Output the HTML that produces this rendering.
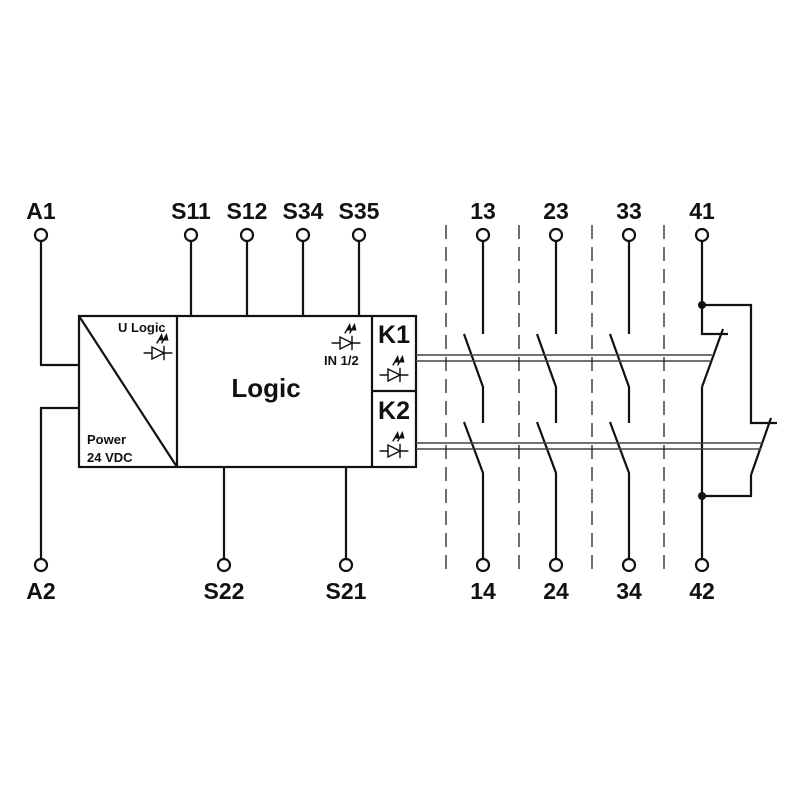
<!DOCTYPE html>
<html><head><style>body{margin:0;background:#fff}svg{display:block}text{font-family:"Liberation Sans",Arial,sans-serif;font-weight:bold;fill:#111}</style></head>
<body>
<svg width="800" height="800" viewBox="0 0 800 800" xmlns="http://www.w3.org/2000/svg">
<defs>
<g id="led" stroke="#111" stroke-width="1.2" fill="none" transform="scale(1.2)">
<line x1="-12" y1="0" x2="12" y2="0"/>
<polygon points="-5,-5 -5,5 5,0" fill="#fff"/>
<line x1="5" y1="-6" x2="5" y2="6"/>
<line x1="-1" y1="-8" x2="3" y2="-15"/><polygon points="3,-15 1,-11 4,-11" fill="#111"/>
<line x1="3" y1="-8" x2="7" y2="-15"/><polygon points="7,-15 5,-11 8,-11" fill="#111"/>
</g>
</defs>
<g stroke="#111" stroke-width="2.2" fill="none">
<circle cx="41" cy="235" r="6"/><circle cx="191" cy="235" r="6"/><circle cx="247" cy="235" r="6"/><circle cx="303" cy="235" r="6"/><circle cx="359" cy="235" r="6"/>
<circle cx="483" cy="235" r="6"/><circle cx="556" cy="235" r="6"/><circle cx="629" cy="235" r="6"/><circle cx="702" cy="235" r="6"/>
<circle cx="41" cy="565" r="6"/><circle cx="224" cy="565" r="6"/><circle cx="346" cy="565" r="6"/>
<circle cx="483" cy="565" r="6"/><circle cx="556" cy="565" r="6"/><circle cx="629" cy="565" r="6"/><circle cx="702" cy="565" r="6"/>
<polyline points="41,241 41,365 79,365"/>
<polyline points="41,559 41,408 79,408"/>
<line x1="191" y1="241" x2="191" y2="316"/><line x1="247" y1="241" x2="247" y2="316"/>
<line x1="303" y1="241" x2="303" y2="316"/><line x1="359" y1="241" x2="359" y2="316"/>
<line x1="224" y1="467" x2="224" y2="559"/><line x1="346" y1="467" x2="346" y2="559"/>
<rect x="79" y="316" width="337" height="151" fill="#fff"/>
<line x1="177" y1="316" x2="177" y2="467"/>
<line x1="372" y1="316" x2="372" y2="467"/>
<line x1="372" y1="391" x2="416" y2="391"/>
<line x1="79" y1="316" x2="177" y2="467"/>
<g id="c">
<line x1="483" y1="241" x2="483" y2="334"/>
<polyline points="464,334 483,387 483,423"/>
<polyline points="464,422 483,473 483,559"/>
</g>
<use href="#c" x="73"/><use href="#c" x="146"/>
<polyline points="702,241 702,334 728,334"/>
<line x1="723" y1="329" x2="702" y2="387"/>
<line x1="702" y1="387" x2="702" y2="559"/>
<polyline points="702,305 751,305 751,423 777,423"/>
<polyline points="702,496 751,496 751,475"/>
<line x1="751" y1="475" x2="771" y2="418"/>
</g>
<circle cx="702" cy="305" r="4" fill="#111"/><circle cx="702" cy="496" r="4" fill="#111"/>
<g stroke="#444" stroke-width="1.5">
<line x1="416" y1="355" x2="712" y2="355"/><line x1="416" y1="361" x2="710" y2="361"/>
<line x1="416" y1="443" x2="763" y2="443"/><line x1="416" y1="449" x2="761" y2="449"/>
</g>
<g stroke="#222" stroke-width="1.3" stroke-dasharray="14,8">
<line x1="446" y1="225" x2="446" y2="575"/><line x1="519" y1="225" x2="519" y2="575"/>
<line x1="592" y1="225" x2="592" y2="575"/><line x1="664" y1="225" x2="664" y2="575"/>
</g>
<use href="#led" x="158" y="353"/>
<use href="#led" x="346" y="343"/>
<use href="#led" x="394" y="375"/>
<use href="#led" x="394" y="451"/>
<g font-size="23" text-anchor="middle">
<text x="41" y="219">A1</text><text x="191" y="219">S11</text><text x="247" y="219">S12</text><text x="303" y="219">S34</text><text x="359" y="219">S35</text>
<text x="483" y="219">13</text><text x="556" y="219">23</text><text x="629" y="219">33</text><text x="702" y="219">41</text>
<text x="41" y="599">A2</text><text x="224" y="599">S22</text><text x="346" y="599">S21</text>
<text x="483" y="599">14</text><text x="556" y="599">24</text><text x="629" y="599">34</text><text x="702" y="599">42</text>
<text x="394" y="343" font-size="25">K1</text><text x="394" y="419" font-size="25">K2</text>
<text x="266" y="397" font-size="26">Logic</text>
</g>
<text x="118" y="332" font-size="13">U Logic</text>
<text x="324" y="365" font-size="13">IN 1/2</text>
<text x="87" y="444" font-size="13">Power</text>
<text x="87" y="462" font-size="13">24 VDC</text>
</svg>
</body></html>
